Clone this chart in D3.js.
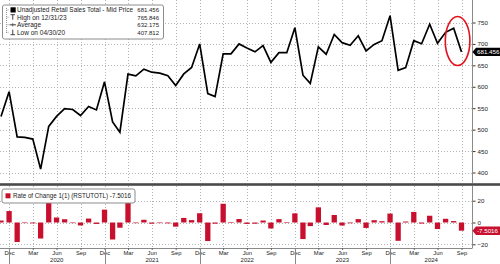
<!DOCTYPE html>
<html><head><meta charset="utf-8">
<script src="https://cdn.jsdelivr.net/npm/d3@7"></script>
<style>
body{margin:0;background:#fff}
svg{display:block}
text{font-family:"Liberation Sans",Arial,sans-serif;fill:#1a1a1a}
</style>
</head><body>
<svg id="c" width="500" height="264"></svg>
<script>
// ---- data (month-end values, Nov 2019 .. Sep 2024) ----
const startYear = 2019, startMonthIndex = 10; // November 2019
const sales = [
  530.6, 588.5,
  483, 482, 478, 407.812, 507.6, 531, 549, 547, 533, 554, 546, 611.5,
  518, 494, 629.5, 625.6, 641, 634, 632, 626, 603, 630, 645, 700,
  584, 577, 677, 677, 700, 690.5, 681.6, 696, 657, 679.5, 679.5, 738,
  627, 608, 693, 676, 722, 703, 697, 719, 683.5, 699, 707.6, 765.846,
  638.5, 644.6, 707.6, 700.5, 746, 701.4, 727, 736.7, 681.456
];
const change = [
  1.8, 10.5,
  -17.9, -0.3, -0.8, -14.7, 24.5, 4.6, 3.0, -0.4, -2.7, 3.6, -1.3, 11.8,
  -15.6, -4.8, 27.0, -0.6, 2.5, -1.1, -0.4, -0.8, -3.8, 4.2, 2.2, 8.5,
  -17.0, -1.1, 17.2, 0.1, 3.2, -1.3, -1.1, 1.8, -5.5, 3.1, 0.1, 8.4,
  -15.2, -3.3, 13.9, -2.3, 6.9, -2.8, -0.7, 3.1, -5.0, 2.1, 1.2, 8.2,
  -16.8, 0.9, 9.7, -1.0, 6.2, -6.0, 3.4, 1.3, -7.5016
];
const topTicks = [400, 450, 500, 550, 600, 650, 700, 750];
const bottomTicks = [-20, 0, 20];
const quarterLabels = {2: "Mar", 5: "Jun", 8: "Sep", 11: "Dec"};
const yearLabels = ["2020", "2021", "2022", "2023", "2024"];
const legendTopRows = [
  {label: "Unadjusted Retail Sales Total - Mid Price", value: "681.456", icon: "square"},
  {label: "High on 12/31/23", value: "765.846", icon: "high"},
  {label: "Average", value: "632.175", icon: "avg"},
  {label: "Low on 04/30/20", value: "407.812", icon: "low"}
];
const legendBottomText = "Rate of Change 1(1) (RSTUTOTL) -7.5016";
const lastSalesLabel = "681.456";
const lastChangeLabel = "-7.5016";

// ---- layout ----
const W = 500, plotRight = 472.5;
const topP = {y0: 0, y1: 183};
const botP = {y0: 186, y1: 248};
const RED = "#c8102e";
const GRID = "#b4b4b4";

const dates = sales.map((_, i) => new Date(startYear, startMonthIndex + i + 1, 0));
const svg = d3.select("#c");

const x = d3.scaleTime().domain([dates[0], dates[dates.length - 1]]).range([1, 461.5]);
const yT = d3.scaleLinear().domain([375.5, 802.5]).range([topP.y1, topP.y0]);
const yB = d3.scaleLinear().domain([-23.4, 33.5]).range([botP.y1, botP.y0]);

const defs = svg.append("defs");
defs.append("clipPath").attr("id", "ct").append("rect").attr("x", 0).attr("y", topP.y0).attr("width", plotRight).attr("height", topP.y1 - topP.y0);
defs.append("clipPath").attr("id", "cb").append("rect").attr("x", 0).attr("y", botP.y0).attr("width", plotRight).attr("height", botP.y1 - botP.y0);

const qDates = dates.filter(d => quarterLabels[d.getMonth()] !== undefined);

// grids
const gGrid = svg.append("g").attr("stroke", GRID).attr("stroke-width", 1).attr("stroke-dasharray", "1,2").attr("fill", "none");
topTicks.forEach(t => gGrid.append("line").attr("x1", 0).attr("x2", plotRight).attr("y1", Math.round(yT(t)) + 0.5).attr("y2", Math.round(yT(t)) + 0.5));
bottomTicks.forEach(t => gGrid.append("line").attr("x1", 0).attr("x2", plotRight).attr("y1", Math.round(yB(t)) + 0.5).attr("y2", Math.round(yB(t)) + 0.5));
qDates.forEach(d => {
  const xx = Math.round(x(d)) + 0.5;
  gGrid.append("line").attr("x1", xx).attr("x2", xx).attr("y1", topP.y0).attr("y2", topP.y1);
  gGrid.append("line").attr("x1", xx).attr("x2", xx).attr("y1", botP.y0).attr("y2", botP.y1);
});

// bars
const bw = 5.3;
svg.append("g").attr("clip-path", "url(#cb)").selectAll("rect").data(change).join("rect")
  .attr("x", (d, i) => x(dates[i]) - bw / 2)
  .attr("width", bw)
  .attr("y", d => Math.min(yB(d), yB(0)))
  .attr("height", d => Math.max(0.6, Math.abs(yB(d) - yB(0))))
  .attr("fill", RED);

// line
svg.append("path").attr("clip-path", "url(#ct)")
  .datum(sales)
  .attr("fill", "none").attr("stroke", "#000").attr("stroke-width", 1.7).attr("stroke-linejoin", "miter")
  .attr("d", d3.line().x((d, i) => x(dates[i])).y(d => yT(d)));

// annotation ellipse around the last drop
const n = sales.length;
svg.append("ellipse")
  .attr("cx", (x(dates[n - 2]) + x(dates[n - 1])) / 2)
  .attr("cy", (yT(sales[n - 2]) + yT(sales[n - 1])) / 2 + 1)
  .attr("rx", 12.3).attr("ry", 24.5)
  .attr("fill", "none").attr("stroke", "#e3121b").attr("stroke-width", 1.6);

// separator band
svg.append("rect").attr("x", 0).attr("y", 183.2).attr("width", W).attr("height", 2.6).attr("fill", "#4a4a4a");

// right axes
const axT = svg.append("g").attr("transform", `translate(${plotRight},0)`)
  .call(d3.axisRight(yT).tickValues(topTicks).tickSize(3).tickPadding(2));
const axB = svg.append("g").attr("transform", `translate(${plotRight},0)`)
  .call(d3.axisRight(yB).tickValues(bottomTicks).tickSize(3).tickPadding(2).tickFormat(d3.format("d")));
[axT, axB].forEach(a => {
  a.select(".domain").remove();
  a.selectAll("line").attr("stroke", "#333");
  a.selectAll("text").attr("font-size", 6.2).attr("font-family", "Liberation Sans, Arial, sans-serif").attr("fill", "#1a1a1a");
});
svg.append("line").attr("x1", plotRight).attr("x2", plotRight).attr("y1", 0).attr("y2", topP.y1).attr("stroke", "#8a8a8a");
svg.append("line").attr("x1", plotRight).attr("x2", plotRight).attr("y1", botP.y0).attr("y2", botP.y1).attr("stroke", "#8a8a8a");

// bottom x axis
svg.append("line").attr("x1", 0).attr("x2", plotRight).attr("y1", botP.y1 + 0.5).attr("y2", botP.y1 + 0.5).attr("stroke", "#8a8a8a");
const axX = svg.append("g").attr("transform", `translate(0,${botP.y1})`)
  .call(d3.axisBottom(x).tickValues(qDates).tickSize(2).tickPadding(1).tickFormat(d => quarterLabels[d.getMonth()]));
axX.select(".domain").remove();
axX.selectAll("line").attr("stroke", "#666");
axX.selectAll("text").attr("font-size", 5.8).attr("font-family", "Liberation Sans, Arial, sans-serif").attr("fill", "#1a1a1a");

// year separators and labels
const yearBounds = yearLabels.map(y => [new Date(+y - 1, 11, 31), new Date(+y, 11, 31)]);
yearBounds.forEach(([a, b], i) => {
  const xa = x(a), xb = Math.min(x(b), plotRight);
  if (xa >= 0 && xa <= plotRight)
    svg.append("line").attr("x1", Math.round(xa) + 0.5).attr("x2", Math.round(xa) + 0.5).attr("y1", botP.y1).attr("y2", 264).attr("stroke", "#888");
  svg.append("text").attr("x", (Math.max(xa, 0) + xb) / 2).attr("y", 262.3).attr("text-anchor", "middle")
    .attr("font-size", 6).text(yearLabels[i]);
});

// value tags
function tag(yv, label, color) {
  const h = 4.2;
  svg.append("path").attr("d", `M${plotRight},${yv} L${plotRight + 3.5},${yv - h} L${W},${yv - h} L${W},${yv + h} L${plotRight + 3.5},${yv + h} Z`).attr("fill", color);
  svg.append("text").attr("x", plotRight + 4.5).attr("y", yv + 2.2).attr("font-size", 6.2).style("fill", "#fff").text(label);
}
tag(yT(sales[n - 1]), lastSalesLabel, "#000");
tag(yB(change[n - 1]), lastChangeLabel, RED);

// top legend
const lg = svg.append("g");
lg.append("rect").attr("x", 2.5).attr("y", 5).attr("width", 161).attr("height", 34).attr("rx", 2)
  .attr("fill", "#fff").attr("stroke", "#8c8c8c");
const rowY = [10, 17.2, 24.8, 32.2];
lg.append("line").attr("x1", 6.5).attr("x2", 6.5).attr("y1", 8).attr("y2", 33).attr("stroke", "#999").attr("stroke-dasharray", "1,1");
legendTopRows.forEach((r, i) => {
  const cy = rowY[i];
  lg.append("line").attr("x1", 6.5).attr("x2", 9).attr("y1", cy).attr("y2", cy).attr("stroke", "#999").attr("stroke-dasharray", "1,1");
  if (r.icon === "square") {
    lg.append("rect").attr("x", 10.5).attr("y", cy - 2.7).attr("width", 5.2).attr("height", 5.2).attr("fill", "#000");
  } else if (r.icon === "high") {
    lg.append("path").attr("d", `M10.5,${cy - 2.5} H15 M12.75,${cy - 2.5} V${cy + 2.5}`).attr("stroke", "#444").attr("fill", "none");
  } else if (r.icon === "avg") {
    lg.append("path").attr("d", `M9.5,${cy} H16 M12.75,${cy - 1.5} V${cy + 1.5}`).attr("stroke", "#444").attr("fill", "none");
  } else {
    lg.append("path").attr("d", `M10.5,${cy + 2.5} H15 M12.75,${cy - 2.5} V${cy + 2.5}`).attr("stroke", "#444").attr("fill", "none");
  }
  const t = lg.append("text").attr("x", 17).attr("y", cy + 2.3).attr("font-size", 6.5).text(r.label);
  if (i === 0) t.attr("textLength", 116).attr("lengthAdjust", "spacingAndGlyphs");
  lg.append("text").attr("x", 159).attr("y", cy + 2.3).attr("font-size", 6).attr("text-anchor", "end").text(r.value);
});

// bottom legend
const lb = svg.append("g");
lb.append("rect").attr("x", 2).attr("y", 189).attr("width", 133).attr("height", 14).attr("rx", 2)
  .attr("fill", "#fff").attr("stroke", "#8c8c8c");
lb.append("rect").attr("x", 5.5).attr("y", 193.3).attr("width", 5).attr("height", 5).attr("fill", RED);
lb.append("text").attr("x", 13).attr("y", 198.3).attr("font-size", 6.5).attr("textLength", 118).attr("lengthAdjust", "spacingAndGlyphs").text(legendBottomText);
</script>
</body></html>
